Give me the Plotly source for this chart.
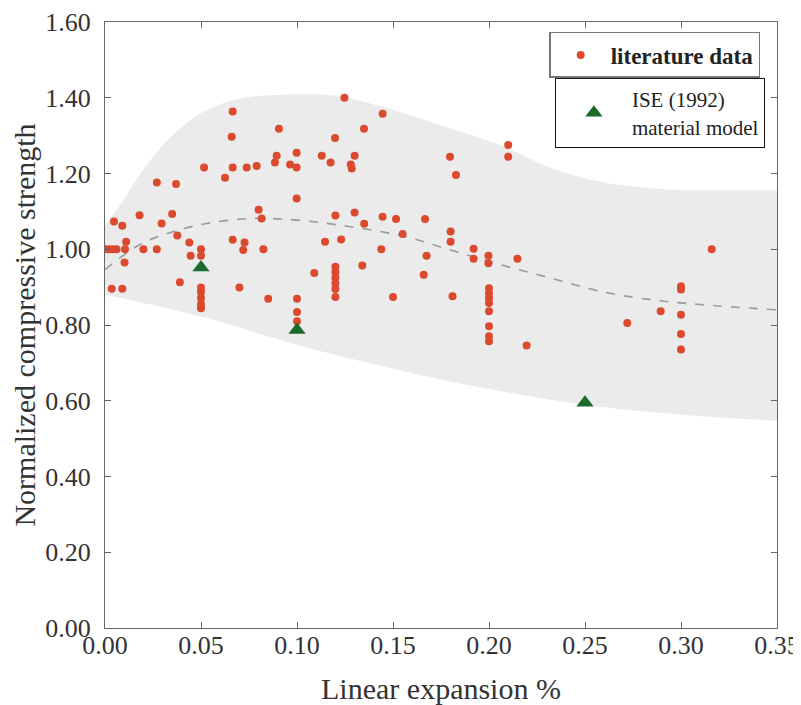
import plotly.graph_objects as go

# literature data
lit_x = [0.000, 0.002, 0.004, 0.006, 0.0104, 0.011, 0.0102, 0.0047, 0.009, 0.0035, 0.009,
         0.018, 0.020, 0.027, 0.0295, 0.027, 0.037, 0.035, 0.0377, 0.039, 0.0439, 0.0446,
         0.050, 0.050, 0.050, 0.050, 0.050, 0.050, 0.050,
         0.0516, 0.0625, 0.0665, 0.066, 0.0665, 0.0665, 0.070, 0.0738, 0.079, 0.0727, 0.072,
         0.080, 0.0816, 0.0825, 0.085, 0.0906, 0.0894, 0.0885, 0.0964, 0.0998, 0.0998, 0.0998,
         0.100, 0.100, 0.100, 0.109, 0.1129, 0.1146, 0.1175, 0.1198, 0.120,
         0.120, 0.120, 0.120, 0.120, 0.120, 0.120, 0.123, 0.1247, 0.128, 0.1285, 0.130, 0.130,
         0.1349, 0.135, 0.134, 0.1446, 0.1446, 0.1439, 0.1516, 0.150, 0.155, 0.1667, 0.1675, 0.166,
         0.1797, 0.1828, 0.180, 0.180, 0.181, 0.192, 0.192, 0.1997, 0.1997,
         0.200, 0.200, 0.200, 0.200, 0.200, 0.200, 0.200, 0.200,
         0.210, 0.210, 0.2148, 0.2196, 0.272, 0.2894, 0.300, 0.300, 0.300, 0.300, 0.300, 0.316]
lit_y = [1.000, 1.000, 1.000, 1.000, 1.000, 1.020, 0.965, 1.073, 1.062, 0.896, 0.896,
         1.090, 1.000, 1.176, 1.068, 1.000, 1.172, 1.093, 1.036, 0.913, 1.018, 0.983,
         1.000, 0.983, 0.899, 0.887, 0.871, 0.855, 0.844,
         1.216, 1.189, 1.364, 1.297, 1.216, 1.025, 0.899, 1.216, 1.220, 1.018, 0.998,
         1.104, 1.081, 1.000, 0.869, 1.318, 1.247, 1.229, 1.224, 1.216, 1.255, 1.134,
         0.869, 0.834, 0.810, 0.937, 1.247, 1.020, 1.229, 1.294, 1.089,
         0.954, 0.940, 0.925, 0.910, 0.895, 0.874, 1.026, 1.400, 1.224, 1.213, 1.247, 1.097,
         1.318, 1.067, 0.957, 1.358, 1.086, 1.000, 1.080, 0.874, 1.040, 1.080, 0.983, 0.933,
         1.244, 1.196, 1.047, 1.020, 0.876, 1.001, 0.975, 0.983, 0.963,
         0.897, 0.884, 0.871, 0.858, 0.836, 0.797, 0.770, 0.757,
         1.275, 1.244, 0.975, 0.746, 0.805, 0.836, 0.902, 0.894, 0.827, 0.776, 0.735, 1.000]

# ISE (1992) material model
ise_x = [0.050, 0.100, 0.250]
ise_y = [0.952, 0.787, 0.595]

# dashed trend line
fit_x = [0.000, 0.018, 0.036, 0.053, 0.0755, 0.100, 0.127, 0.155, 0.180, 0.206, 0.232, 0.258, 0.284, 0.310, 0.350]
fit_y = [0.946, 1.012, 1.047, 1.068, 1.081, 1.077, 1.060, 1.035, 0.998, 0.959, 0.924, 0.889, 0.867, 0.854, 0.840]

# shaded band (upper and lower edges)
band_upper_x = [0.000, 0.008, 0.018, 0.0286, 0.039, 0.0495, 0.0634, 0.0755, 0.093, 0.119, 0.143,
                0.175, 0.206, 0.232, 0.258, 0.293, 0.350]
band_upper = [1.065, 1.117, 1.196, 1.266, 1.318, 1.358, 1.389, 1.402, 1.408, 1.406, 1.378,
              1.327, 1.275, 1.215, 1.178, 1.158, 1.156]
band_lower_x = [0.000, 0.0495, 0.0998, 0.148, 0.1936, 0.258, 0.300, 0.350]
band_lower = [0.880, 0.823, 0.748, 0.687, 0.637, 0.584, 0.563, 0.547]

x_ticks = [0.00, 0.05, 0.10, 0.15, 0.20, 0.25, 0.30, 0.35]
y_ticks = [0.00, 0.20, 0.40, 0.60, 0.80, 1.00, 1.20, 1.40, 1.60]

FONT = "Liberation Serif, serif"

fig = go.Figure()
fig.add_trace(go.Scatter(x=band_lower_x, y=band_lower, mode="lines", line=dict(width=0, shape="spline"),
                         showlegend=False, hoverinfo="skip"))
fig.add_trace(go.Scatter(x=band_upper_x, y=band_upper, mode="lines", line=dict(width=0, shape="spline"),
                         fill="tonexty", fillcolor="#ebebeb", showlegend=False, hoverinfo="skip"))
fig.add_trace(go.Scatter(x=fit_x, y=fit_y, mode="lines",
                         line=dict(color="#9a9a9a", width=1.6, dash="dash", shape="spline"),
                         showlegend=False))
fig.add_trace(go.Scatter(x=lit_x, y=lit_y, mode="markers", name="<b>literature data</b>",
                         marker=dict(symbol="circle", size=8, color="#db4a2e"), legend="legend"))
fig.add_trace(go.Scatter(x=ise_x, y=ise_y, mode="markers", name="ISE (1992)<br>material model",
                         marker=dict(symbol="triangle-up", size=15, color="#1b6b2c"), legend="legend2"))

axis_common = dict(showgrid=False, zeroline=False, showline=True, linecolor="#666666", linewidth=1.3,
                   mirror="ticks", ticks="inside", ticklen=6, tickcolor="#666666", tickwidth=1.2,
                   automargin=False,
                   tickfont=dict(family=FONT, size=26, color="#333333"))

fig.update_xaxes(range=[0, 0.35], tickvals=x_ticks, ticktext=[f"{v:.2f}" for v in x_ticks],
                 ticklabelstandoff=-6,
                 title=dict(text="Linear expansion %", font=dict(family=FONT, size=30, color="#333333"), standoff=21),
                 **axis_common)
fig.update_yaxes(range=[0, 1.6], tickvals=y_ticks, ticktext=[f"{v:.2f}" for v in y_ticks],
                 ticklabelstandoff=8,
                 title=dict(text="Normalized compressive strength", font=dict(family=FONT, size=30, color="#333333"), standoff=11),
                 **axis_common)

# the page body adds an 8 px offset, so the figure is sized to fit the 801x705 window
fig.update_layout(
    width=793, height=697,
    margin=dict(l=97, r=24, t=14, b=77),
    paper_bgcolor="white", plot_bgcolor="white",
    font=dict(family=FONT, color="#222222"),
    legend=dict(x=0.975, y=0.9835, xanchor="right", yanchor="top", bgcolor="white",
                bordercolor="#777777", borderwidth=1.5, itemwidth=50,
                font=dict(family=FONT, size=23, color="#222222")),
    legend2=dict(x=0.982, y=0.9076, xanchor="right", yanchor="top", bgcolor="white",
                 bordercolor="#111111", borderwidth=1, itemwidth=66,
                 font=dict(family=FONT, size=21, color="#222222")),
)

fig.write_html("out.html")
